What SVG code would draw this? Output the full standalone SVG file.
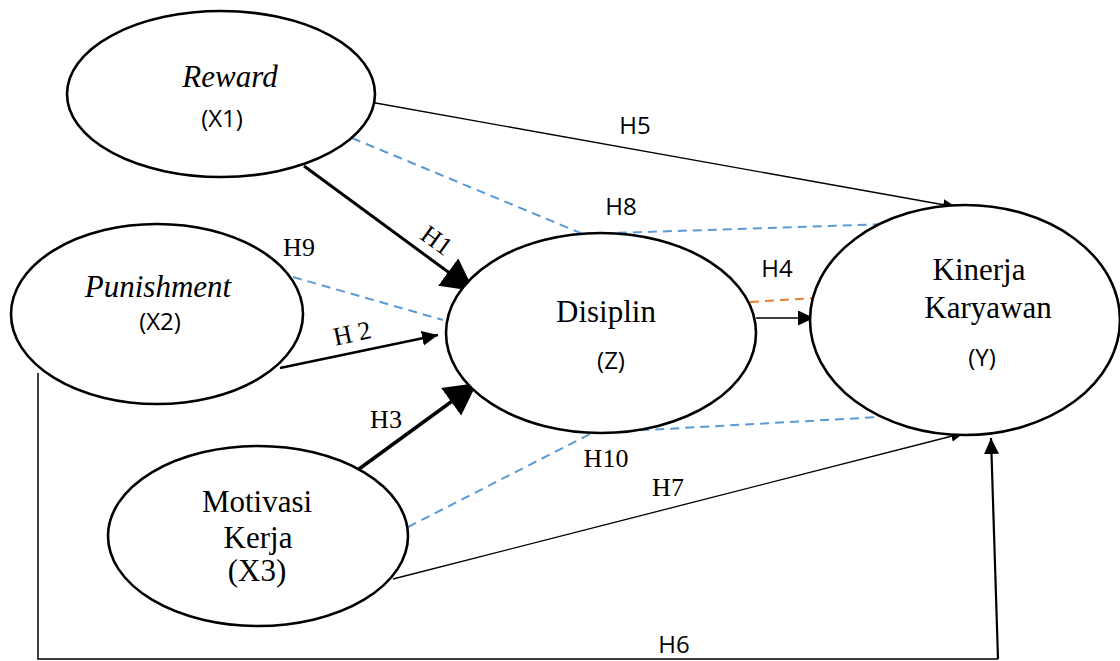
<svg xmlns="http://www.w3.org/2000/svg" width="1120" height="661" viewBox="0 0 1120 661">
<style>
.node{fill:#fff;stroke:#000;stroke-width:2.6}
.serif{font-family:"Liberation Serif","Times New Roman",serif;fill:#000}
.sans{font-family:"Open Sans","Liberation Sans",sans-serif;fill:#000}
.big{font-size:31px}
.lab{font-size:26px}
.sl{font-size:24px}
.blue{fill:none;stroke:#5B9BD5;stroke-width:2;stroke-dasharray:9 6}
.orange{fill:none;stroke:#ED7D31;stroke-width:2;stroke-dasharray:9 6}
.ln{fill:none;stroke:#000}
</style>
<defs>
<marker id="ahBig" markerUnits="userSpaceOnUse" markerWidth="34" markerHeight="36" refX="32" refY="17" orient="auto">
<path d="M0,0 L32,17 L0,34 Z" fill="#000"/>
</marker>
<marker id="ahMed" markerUnits="userSpaceOnUse" markerWidth="18" markerHeight="16" refX="16" refY="7.5" orient="auto">
<path d="M0,0 L16,7.5 L0,15 Z" fill="#000"/>
</marker>
<marker id="ahSm" markerUnits="userSpaceOnUse" markerWidth="15" markerHeight="12" refX="13" refY="5.5" orient="auto">
<path d="M0,0 L13,5.5 L0,11 Z" fill="#000"/>
</marker>
</defs>
<rect width="1120" height="661" fill="#fff"/>

<g id="connectors">
<line class="ln" x1="370" y1="102" x2="956" y2="207" stroke-width="1.3" marker-end="url(#ahSm)"/>
<polyline class="blue" points="352,138 583,234 890,224"/>
<line class="ln" x1="304" y1="166" x2="474" y2="291" stroke-width="3" marker-end="url(#ahBig)"/>
<line class="blue" x1="293" y1="277" x2="443" y2="320"/>
<line class="ln" x1="280" y1="368" x2="438" y2="335" stroke-width="2.5" marker-end="url(#ahMed)"/>
<line class="ln" x1="359" y1="469" x2="477" y2="383" stroke-width="3.5" marker-end="url(#ahBig)"/>
<line class="orange" x1="750" y1="302" x2="815" y2="298"/>
<line class="ln" x1="756" y1="318" x2="814" y2="318" stroke-width="1.5" marker-end="url(#ahMed)"/>
<polyline class="blue" points="408,527 592,433 880,417"/>
<line class="ln" x1="393" y1="579" x2="964" y2="433" stroke-width="1.3" marker-end="url(#ahSm)"/>
<polyline class="ln" points="38,373 38,659 998,659" stroke-width="1.5"/>
<line class="ln" x1="998" y1="659" x2="991" y2="438" stroke-width="2.2" marker-end="url(#ahMed)"/>
</g>

<g id="node-reward">
<ellipse class="node" cx="221" cy="94" rx="154" ry="83"/>
<text class="serif big" x="230" y="87" text-anchor="middle" font-style="italic">Reward</text>
<text class="sans sl" x="222" y="127" text-anchor="middle">(X1)</text>
</g>

<g id="node-punishment">
<ellipse class="node" cx="157" cy="314" rx="146" ry="90"/>
<text class="serif big" x="158" y="297" text-anchor="middle" font-style="italic">Punishment</text>
<text class="sans sl" x="160" y="330" text-anchor="middle">(X2)</text>
</g>

<g id="node-disiplin">
<ellipse class="node" cx="601" cy="333" rx="155" ry="100"/>
<text class="serif big" x="606" y="322" text-anchor="middle">Disiplin</text>
<text class="sans sl" x="611" y="369" text-anchor="middle">(Z)</text>
</g>

<g id="node-kinerja">
<ellipse class="node" cx="965" cy="320" rx="155" ry="115"/>
<text class="serif big" x="979" y="280" text-anchor="middle">Kinerja</text>
<text class="serif big" x="988" y="318" text-anchor="middle">Karyawan</text>
<text class="sans sl" x="982" y="366" text-anchor="middle">(Y)</text>
</g>

<g id="node-motivasi">
<ellipse class="node" cx="258" cy="536" rx="150" ry="90"/>
<text class="serif big" x="257" y="512" text-anchor="middle">Motivasi</text>
<text class="serif big" x="258" y="548" text-anchor="middle">Kerja</text>
<text class="serif big" x="257" y="581" text-anchor="middle">(X3)</text>
</g>

<g id="labels">
<text class="sans sl" x="635" y="134" text-anchor="middle">H5</text>
<text class="sans sl" x="621" y="215" text-anchor="middle">H8</text>
<text class="serif lab" x="437" y="249" text-anchor="middle" transform="rotate(36 437 240)">H1</text>
<text class="serif lab" x="299" y="256" text-anchor="middle">H9</text>
<text class="serif lab" x="352" y="342" text-anchor="middle" transform="rotate(-12 352 333)">H 2</text>
<text class="sans sl" x="777" y="277" text-anchor="middle">H4</text>
<text class="serif lab" x="386" y="428" text-anchor="middle">H3</text>
<text class="serif lab" x="606" y="467" text-anchor="middle">H10</text>
<text class="serif lab" x="668" y="496" text-anchor="middle">H7</text>
<text class="sans sl" x="674" y="653" text-anchor="middle">H6</text>
</g>
</svg>
